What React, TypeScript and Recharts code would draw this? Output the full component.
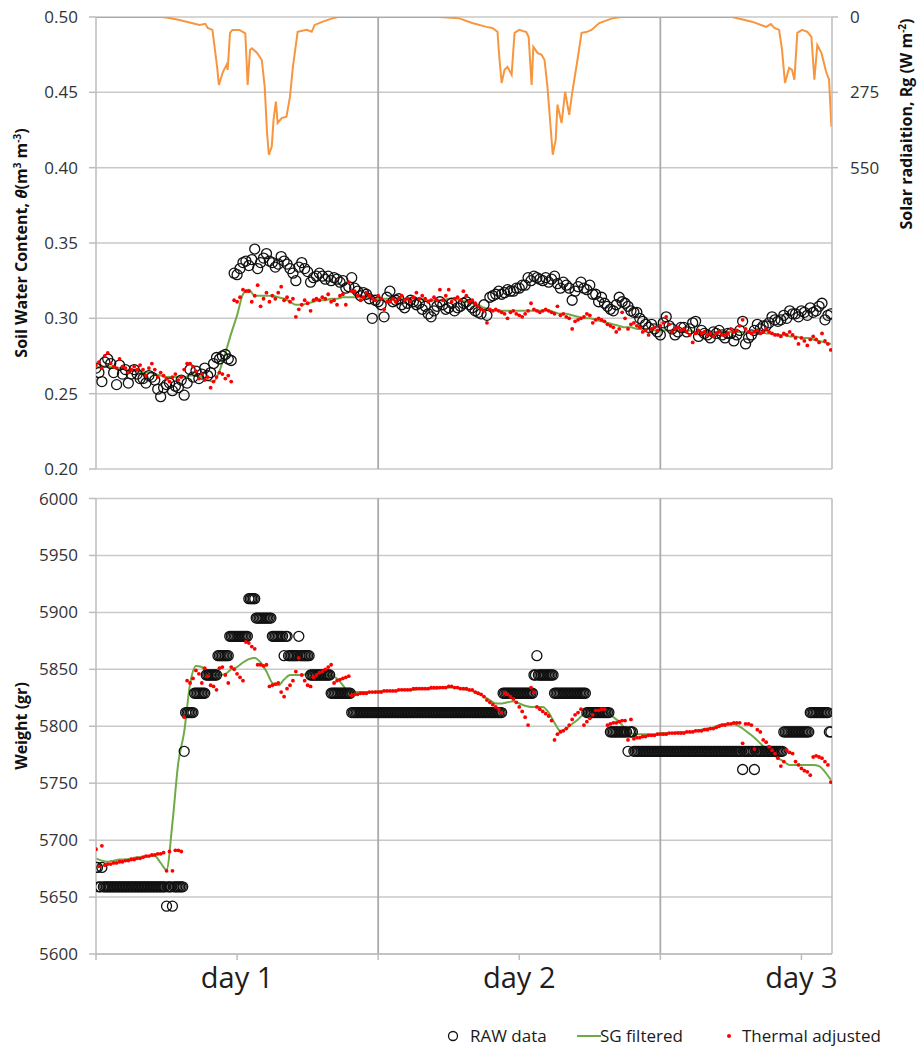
import React from 'react';
import {
  ComposedChart,
  Scatter,
  Line,
  XAxis,
  YAxis,
  CartesianGrid,
  ReferenceLine,
} from 'recharts';

// ---- time base (hours from start of logging) ----
const X_MAX = 62.6;
const RAW_STEP_H = 0.25; // logger interval for theta / thermal series
const SCALE_STEP_H = 0.125; // balance logging interval
const SG_STEP_H = 0.5; // interval of the smoothed series
const dayTicks = [0, 12, 24, 36, 48, 60];
const dayLabels: Record<number, string> = { 12: 'day 1', 36: 'day 2', 60: 'day 3' };
const dayBoundaries = [24, 48];

// ---- axis ticks ----
const swcTicks = [0.2, 0.25, 0.3, 0.35, 0.4, 0.45, 0.5];
const radTicks = [0, 275, 550];
const weightTicks = [5600, 5650, 5700, 5750, 5800, 5850, 5900, 5950, 6000];

// ---- solar radiation, Rg (W m-2) ----
const solarHours = [
  0, 5.5, 6.0, 7.0, 7.7, 8.8, 9.3, 9.5, 9.9, 10.3, 10.45, 10.8, 11.1, 11.2, 11.4, 11.6,
  12.2, 12.7, 12.9, 13.1, 13.25, 13.7, 14.1, 14.35, 14.55, 14.7, 14.95, 15.1, 15.3, 15.45,
  15.8, 16.2, 16.5, 16.75, 17.15, 17.9, 18.35, 18.6, 19.3, 20.1, 20.6,
  29.2, 30.9, 32.0, 33.2, 33.7, 34.15, 34.3, 34.5, 34.75, 35.0, 35.35, 35.6, 36.0, 36.6,
  36.8, 37.05, 37.2, 37.55, 37.9, 38.15, 38.4, 38.75, 38.85, 39.1, 39.25, 39.6, 39.9,
  40.25, 40.5, 40.95, 41.3, 41.7, 42.15, 42.8, 43.9, 44.7,
  54.1, 55.8, 57.0, 57.4, 57.7, 58.1, 58.35, 58.6, 58.95, 59.2, 59.4, 59.65, 60.05, 60.5,
  60.85, 61.1, 61.35, 61.7, 62.1, 62.35, 62.55,
];
const solarValues = [
  0, 0, 2, 10, 17, 29, 25, 40, 47, 181, 248, 200, 175, 193, 58, 47,
  47, 60, 248, 120, 114, 131, 157, 255, 423, 503, 473, 375, 309, 387,
  369, 364, 291, 181, 54, 47, 54, 29, 17, 5, 0,
  0, 5, 22, 36, 40, 54, 145, 241, 193, 182, 211, 58, 47, 55,
  73, 248, 109, 131, 138, 157, 255, 448, 503, 448, 320, 387, 273,
  357, 277, 157, 58, 55, 47, 22, 5, 0,
  0, 17, 36, 26, 40, 47, 120, 241, 186, 193, 229, 58, 47, 54,
  73, 229, 102, 131, 200, 229, 400,
];

// ---- soil water content, theta (m3 m-3), every 15 min ----
const swcRaw = [
  0.267, 0.264, 0.258, 0.271, 0.273, 0.270, 0.264, 0.256, 0.269, 0.263, 0.266, 0.257,
  0.263, 0.266, 0.263, 0.260, 0.260, 0.257, 0.262, 0.261, 0.259, 0.253, 0.248, 0.254,
  0.256, 0.257, 0.252, 0.255, 0.254, 0.259, 0.249, 0.257, 0.266, 0.261, 0.265, 0.260,
  0.263, 0.267, 0.262, 0.264, 0.270, 0.274, 0.273, 0.275, 0.276, 0.273, 0.272, 0.330,
  0.329, 0.333, 0.337, 0.338, 0.335, 0.339, 0.346, 0.333, 0.337, 0.340, 0.343, 0.338,
  0.337, 0.334, 0.336, 0.341, 0.338, 0.336, 0.333, 0.330, 0.325, 0.334, 0.337, 0.333,
  0.331, 0.324, 0.327, 0.328, 0.330, 0.328, 0.326, 0.328, 0.325, 0.327, 0.326, 0.324,
  0.325, 0.320, 0.321, 0.327, 0.320, 0.318, 0.315, 0.317, 0.316, 0.313, 0.300, 0.312,
  0.311, 0.309, 0.301, 0.314, 0.318, 0.311, 0.312, 0.313, 0.309, 0.307, 0.310, 0.312,
  0.311, 0.309, 0.310, 0.306, 0.308, 0.303, 0.301, 0.305, 0.308, 0.311, 0.309, 0.306,
  0.307, 0.310, 0.305, 0.307, 0.308, 0.310, 0.311, 0.309, 0.307, 0.305, 0.304, 0.303,
  0.309, 0.302, 0.314, 0.315, 0.316, 0.318, 0.316, 0.317, 0.319, 0.318, 0.318, 0.320,
  0.320, 0.322, 0.322, 0.327, 0.325, 0.328, 0.327, 0.326, 0.325, 0.327, 0.324, 0.326,
  0.328, 0.323, 0.320, 0.324, 0.322, 0.320, 0.312, 0.318, 0.321, 0.324, 0.320, 0.319,
  0.322, 0.316, 0.316, 0.311, 0.314, 0.310, 0.308, 0.306, 0.305, 0.309, 0.314, 0.311,
  0.310, 0.308, 0.305, 0.304, 0.304, 0.300, 0.298, 0.296, 0.294, 0.296, 0.293, 0.291,
  0.289, 0.297, 0.301, 0.295, 0.293, 0.289, 0.291, 0.294, 0.294, 0.291, 0.293, 0.297,
  0.298, 0.288, 0.292, 0.290, 0.289, 0.287, 0.291, 0.290, 0.292, 0.289, 0.287, 0.290,
  0.290, 0.285, 0.289, 0.292, 0.298, 0.283, 0.287, 0.289, 0.292, 0.296, 0.293, 0.295,
  0.295, 0.297, 0.301, 0.299, 0.298, 0.299, 0.302, 0.300, 0.305, 0.303, 0.303, 0.301,
  0.305, 0.304, 0.302, 0.307, 0.304, 0.305, 0.308, 0.310, 0.299, 0.302, 0.303,
];
const swcThermal = [
  0.269, 0.271, 0.267, 0.275, 0.277, 0.270, 0.268, 0.267, 0.273, 0.268, 0.267, 0.264,
  0.266, 0.268, 0.266, 0.269, 0.266, 0.262, 0.267, 0.270, 0.266, 0.261, 0.264, 0.262,
  0.260, 0.258, 0.261, 0.263, 0.259, 0.261, 0.266, 0.270, 0.270, 0.268, 0.265, 0.260,
  0.263, 0.259, 0.261, 0.254, 0.258, 0.261, 0.264, 0.263, 0.260, 0.262, 0.258, 0.312,
  0.311, 0.314, 0.319, 0.318, 0.318, 0.311, 0.315, 0.322, 0.308, 0.313, 0.317, 0.311,
  0.315, 0.313, 0.317, 0.321, 0.312, 0.314, 0.311, 0.313, 0.301, 0.306, 0.309, 0.312,
  0.310, 0.305, 0.312, 0.313, 0.312, 0.314, 0.313, 0.316, 0.311, 0.312, 0.309, 0.315,
  0.316, 0.309, 0.324, 0.318, 0.318, 0.315, 0.312, 0.314, 0.317, 0.315, 0.313, 0.312,
  0.315, 0.313, 0.306, 0.311, 0.311, 0.313, 0.311, 0.313, 0.315, 0.312, 0.313, 0.311,
  0.314, 0.317, 0.313, 0.315, 0.313, 0.311, 0.312, 0.314, 0.312, 0.319, 0.312, 0.315,
  0.319, 0.311, 0.313, 0.314, 0.312, 0.318, 0.315, 0.311, 0.312, 0.310, 0.308, 0.306,
  0.305, 0.297, 0.306, 0.305, 0.306, 0.305, 0.304, 0.303, 0.300, 0.304, 0.305, 0.303,
  0.302, 0.301, 0.303, 0.305, 0.310, 0.306, 0.305, 0.304, 0.305, 0.306, 0.305, 0.304,
  0.303, 0.308, 0.302, 0.303, 0.301, 0.300, 0.293, 0.298, 0.299, 0.300, 0.301, 0.303,
  0.302, 0.297, 0.299, 0.300, 0.299, 0.298, 0.296, 0.295, 0.294, 0.291, 0.293, 0.304,
  0.300, 0.293, 0.296, 0.297, 0.295, 0.294, 0.291, 0.292, 0.289, 0.293, 0.294, 0.292,
  0.295, 0.297, 0.301, 0.296, 0.291, 0.293, 0.294, 0.292, 0.293, 0.291, 0.289, 0.284,
  0.290, 0.292, 0.290, 0.291, 0.289, 0.290, 0.288, 0.290, 0.291, 0.289, 0.289, 0.290,
  0.293, 0.291, 0.292, 0.295, 0.299, 0.293, 0.291, 0.290, 0.291, 0.292, 0.290, 0.291,
  0.293, 0.291, 0.290, 0.289, 0.289, 0.288, 0.290, 0.289, 0.291, 0.289, 0.287, 0.283,
  0.287, 0.285, 0.282, 0.286, 0.288, 0.286, 0.284, 0.290, 0.285, 0.283, 0.279,
];
// Savitzky-Golay smoothed theta, every 30 min
const swcSg = [
  0.267, 0.268, 0.268, 0.267, 0.267, 0.266, 0.265, 0.265, 0.264, 0.264,
  0.263, 0.262, 0.261, 0.261, 0.261, 0.261, 0.262, 0.262, 0.261, 0.259,
  0.258, 0.265, 0.277, 0.290, 0.302, 0.316, 0.319, 0.315, 0.315, 0.315,
  0.315, 0.314, 0.313, 0.311, 0.309, 0.309, 0.310, 0.311, 0.312, 0.312,
  0.313, 0.313, 0.314, 0.314, 0.314, 0.314, 0.314, 0.313, 0.313, 0.313,
  0.313, 0.313, 0.313, 0.313, 0.313, 0.313, 0.312, 0.312, 0.312, 0.312,
  0.313, 0.313, 0.312, 0.311, 0.310, 0.309, 0.307, 0.306, 0.305, 0.305,
  0.305, 0.305, 0.305, 0.305, 0.305, 0.305, 0.305, 0.305, 0.304, 0.303,
  0.303, 0.302, 0.301, 0.300, 0.300, 0.299, 0.298, 0.297, 0.296, 0.295,
  0.294, 0.294, 0.293, 0.293, 0.293, 0.292, 0.292, 0.292, 0.292, 0.292,
  0.292, 0.292, 0.291, 0.291, 0.291, 0.291, 0.291, 0.291, 0.291, 0.291,
  0.291, 0.291, 0.291, 0.291, 0.290, 0.290, 0.289, 0.289, 0.288, 0.288,
  0.287, 0.287, 0.286, 0.285, 0.284, 0.283,
];

// ---- lysimeter weight (gr), raw balance readings every 7.5 min ----
const weightRaw = [
  5676, 5676, 5659, 5659, 5676, 5659, 5659, 5659,
  5659, 5659, 5659, 5659, 5659, 5659, 5659, 5659,
  5659, 5659, 5659, 5659, 5659, 5659, 5659, 5659,
  5659, 5659, 5659, 5659, 5659, 5659, 5659, 5659,
  5659, 5659, 5659, 5659, 5659, 5659, 5659, 5659,
  5659, 5659, 5659, 5659, 5659, 5659, 5659, 5659,
  5642, 5659, 5659, 5659, 5642, 5659, 5659, 5659,
  5659, 5659, 5659, 5659, 5778, 5812, 5812, 5812,
  5812, 5812, 5812, 5829, 5829, 5829, 5829, 5829,
  5829, 5829, 5829, 5845, 5845, 5845, 5845, 5845,
  5845, 5845, 5845, 5862, 5862, 5862, 5862, 5862,
  5862, 5862, 5862, 5879, 5879, 5879, 5879, 5879,
  5879, 5879, 5879, 5879, 5879, 5879, 5879, 5879,
  5912, 5912, 5912, 5912, 5912, 5895, 5895, 5895,
  5895, 5895, 5895, 5895, 5895, 5895, 5895, 5895,
  5879, 5879, 5879, 5879, 5879, 5879, 5879, 5879,
  5862, 5879, 5879, 5862, 5862, 5862, 5862, 5862,
  5862, 5862, 5879, 5862, 5862, 5862, 5862, 5862,
  5862, 5862, 5845, 5845, 5845, 5845, 5845, 5845,
  5845, 5845, 5845, 5845, 5845, 5845, 5845, 5845,
  5829, 5829, 5829, 5829, 5829, 5829, 5829, 5829,
  5829, 5829, 5829, 5829, 5829, 5829, 5812, 5812,
  5812, 5812, 5812, 5812, 5812, 5812, 5812, 5812,
  5812, 5812, 5812, 5812, 5812, 5812, 5812, 5812,
  5812, 5812, 5812, 5812, 5812, 5812, 5812, 5812,
  5812, 5812, 5812, 5812, 5812, 5812, 5812, 5812,
  5812, 5812, 5812, 5812, 5812, 5812, 5812, 5812,
  5812, 5812, 5812, 5812, 5812, 5812, 5812, 5812,
  5812, 5812, 5812, 5812, 5812, 5812, 5812, 5812,
  5812, 5812, 5812, 5812, 5812, 5812, 5812, 5812,
  5812, 5812, 5812, 5812, 5812, 5812, 5812, 5812,
  5812, 5812, 5812, 5812, 5812, 5812, 5812, 5812,
  5812, 5812, 5812, 5812, 5812, 5812, 5812, 5812,
  5812, 5812, 5812, 5812, 5812, 5812, 5812, 5812,
  5812, 5812, 5812, 5812, 5812, 5829, 5829, 5829,
  5829, 5829, 5829, 5829, 5829, 5829, 5829, 5829,
  5829, 5829, 5829, 5829, 5829, 5829, 5829, 5829,
  5829, 5829, 5845, 5845, 5862, 5845, 5845, 5845,
  5845, 5845, 5845, 5845, 5845, 5845, 5845, 5845,
  5829, 5829, 5829, 5829, 5829, 5829, 5829, 5829,
  5829, 5829, 5829, 5829, 5829, 5829, 5829, 5829,
  5829, 5829, 5829, 5829, 5829, 5829, 5812, 5812,
  5812, 5812, 5812, 5812, 5812, 5812, 5812, 5812,
  5812, 5812, 5812, 5812, 5812, 5812, 5795, 5795,
  5795, 5795, 5795, 5795, 5795, 5795, 5795, 5795,
  5795, 5795, 5778, 5795, 5795, 5795, 5778, 5778,
  5778, 5778, 5778, 5778, 5778, 5778, 5778, 5778,
  5778, 5778, 5778, 5778, 5778, 5778, 5778, 5778,
  5778, 5778, 5778, 5778, 5778, 5778, 5778, 5778,
  5778, 5778, 5778, 5778, 5778, 5778, 5778, 5778,
  5778, 5778, 5778, 5778, 5778, 5778, 5778, 5778,
  5778, 5778, 5778, 5778, 5778, 5778, 5778, 5778,
  5778, 5778, 5778, 5778, 5778, 5778, 5778, 5778,
  5778, 5778, 5778, 5778, 5778, 5778, 5778, 5778,
  5778, 5778, 5778, 5778, 5778, 5778, 5778, 5778,
  5762, 5778, 5778, 5778, 5778, 5778, 5778, 5778,
  5762, 5778, 5778, 5778, 5778, 5778, 5778, 5778,
  5778, 5778, 5778, 5778, 5778, 5778, 5778, 5778,
  5778, 5778, 5778, 5778, 5795, 5795, 5795, 5795,
  5795, 5795, 5795, 5795, 5795, 5795, 5795, 5795,
  5795, 5795, 5795, 5795, 5795, 5795, 5812, 5812,
  5812, 5812, 5812, 5812, 5812, 5812, 5812, 5812,
  5812, 5812, 5812, 5795, 5795,
];
// temperature-corrected weight, every 15 min
const weightThermal = [
  5692, 5677, 5695, 5678, 5679, 5679, 5680, 5680, 5681, 5681, 5682, 5682,
  5683, 5683, 5684, 5684, 5685, 5686, 5686, 5687, 5687, 5688, 5688, 5689,
  5673, 5690, 5673, 5691, 5691, 5690, 5808, 5840, 5838, 5842, 5849, 5846,
  5838, 5851, 5844, 5836, 5835, 5832, 5851, 5852, 5845, 5838, 5852, 5850,
  5846, 5843, 5840, 5874, 5873, 5870, 5868, 5854, 5854, 5853, 5854, 5835,
  5836, 5837, 5838, 5830, 5826, 5833, 5836, 5840, 5848, 5860, 5845, 5840,
  5836, 5835, 5843, 5845, 5847, 5848, 5850, 5852, 5854, 5838, 5840, 5841,
  5842, 5843, 5844, 5827, 5828, 5828, 5829, 5829, 5829, 5830, 5830, 5830,
  5830, 5830, 5831, 5831, 5831, 5831, 5831, 5832, 5832, 5832, 5832, 5832,
  5833, 5833, 5833, 5833, 5833, 5833, 5834, 5834, 5834, 5834, 5834, 5834,
  5835, 5835, 5834, 5834, 5833, 5833, 5833, 5832, 5832, 5830, 5829, 5828,
  5826, 5823, 5821, 5819, 5817, 5815, 5812, 5829, 5828, 5826, 5824, 5821,
  5817, 5813, 5808, 5801, 5834, 5830, 5817, 5815, 5813, 5811, 5809, 5805,
  5788, 5793, 5795, 5796, 5798, 5801, 5806, 5810, 5812, 5815, 5801, 5804,
  5807, 5810, 5814, 5814, 5815, 5815, 5801, 5802, 5803, 5803, 5804, 5805,
  5805, 5788, 5806, 5789, 5790, 5790, 5791, 5791, 5792, 5792, 5792, 5793,
  5793, 5793, 5793, 5794, 5794, 5794, 5794, 5794, 5794, 5795, 5795, 5795,
  5796, 5796, 5796, 5797, 5797, 5798, 5798, 5799, 5800, 5801, 5801, 5802,
  5802, 5803, 5803, 5803, 5785, 5802, 5802, 5801, 5780, 5797, 5795, 5788,
  5786, 5782, 5779, 5776, 5772, 5765, 5769, 5779, 5777, 5776, 5769, 5766,
  5763, 5761, 5760, 5757, 5773, 5774, 5773, 5772, 5769, 5766, 5751,
];
// Savitzky-Golay smoothed weight, every 30 min
const weightSg = [
  5684, 5682, 5681, 5682, 5683, 5683, 5684, 5685, 5685, 5686,
  5686, 5680, 5674, 5715, 5768, 5795, 5837, 5853, 5852, 5845,
  5845, 5845, 5846, 5850, 5852, 5856, 5859, 5860, 5856, 5848,
  5838, 5836, 5841, 5845, 5845, 5845, 5846, 5846, 5845, 5845,
  5844, 5842, 5836, 5830, 5830, 5830, 5830, 5830, 5831, 5831,
  5831, 5831, 5832, 5832, 5832, 5833, 5833, 5833, 5833, 5834,
  5834, 5834, 5833, 5832, 5831, 5829, 5826, 5823, 5820, 5820,
  5821, 5822, 5820, 5818, 5817, 5817, 5817, 5812, 5803, 5796,
  5798, 5802, 5806, 5811, 5814, 5815, 5814, 5812, 5808, 5804,
  5798, 5794, 5793, 5793, 5793, 5793, 5794, 5794, 5794, 5795,
  5795, 5795, 5796, 5797, 5798, 5799, 5801, 5802, 5802, 5801,
  5798, 5794, 5790, 5785, 5780, 5776, 5772, 5769, 5766, 5766,
  5766, 5766, 5766, 5765, 5760, 5753,
];

// ---- helpers ----
type Pt = { t: number; v: number };
const onGrid = (values: number[], step: number): Pt[] =>
  values.map((v, i) => ({ t: i * step, v }));
const paired = (hours: number[], values: number[]): Pt[] =>
  values.map((v, i) => ({ t: hours[i], v }));

const solarData = paired(solarHours, solarValues);
const swcRawData = onGrid(swcRaw, RAW_STEP_H);
const swcThermalData = onGrid(swcThermal, RAW_STEP_H);
const swcSgData = onGrid(swcSg, SG_STEP_H);
const weightRawData = onGrid(weightRaw, SCALE_STEP_H);
const weightThermalData = onGrid(weightThermal, RAW_STEP_H);
const weightSgData = onGrid(weightSg, SG_STEP_H);

// ---- styling ----
const FONT = '"Open Sans", "DejaVu Sans", sans-serif';
const ORANGE = '#F7963F';
const GREEN = '#6FAA47';
const RED = '#FF0000';
const GRID = '#c9c9c9';
const VGRID = '#ababab';
const AXIS = '#bdbdbd';
const TICK_TEXT = { fill: '#333333', fontSize: 17, fontFamily: FONT };

const RawCircle = (props: any) =>
  props.cx == null ? <g /> : (
    <circle cx={props.cx} cy={props.cy} r={5} fill="none" stroke="#111" strokeWidth={1.3} />
  );
const RedDot = (props: any) =>
  props.cx == null ? <g /> : <circle cx={props.cx} cy={props.cy} r={1.9} fill={RED} />;

const WIDTH = 917;

function MoistureChart() {
  return (
    <ComposedChart width={WIDTH} height={480} margin={{ top: 17, right: 0, bottom: 11, left: 0 }}>
      <CartesianGrid yAxisId="swc" vertical={false} stroke={GRID} strokeWidth={1.5} />
      <XAxis type="number" dataKey="t" domain={[0, X_MAX]} allowDataOverflow hide />
      <YAxis
        yAxisId="swc"
        type="number"
        dataKey="v"
        domain={[0.2, 0.5]}
        ticks={swcTicks}
        tickFormatter={(v: number) => v.toFixed(2)}
        width={96}
        tickSize={7}
        tickMargin={11}
        axisLine={{ stroke: AXIS, strokeWidth: 1.5 }}
        tickLine={{ stroke: AXIS, strokeWidth: 1.5 }}
        tick={TICK_TEXT}
        allowDataOverflow
      />
      <YAxis
        yAxisId="rad"
        orientation="right"
        type="number"
        dataKey="v"
        domain={[0, 1650]}
        reversed
        ticks={radTicks}
        width={85}
        tickSize={6}
        tickMargin={12}
        axisLine={{ stroke: AXIS, strokeWidth: 1.5 }}
        tickLine={{ stroke: AXIS, strokeWidth: 1.5 }}
        tick={TICK_TEXT}
        allowDataOverflow
      />
      {dayBoundaries.map((d) => (
        <ReferenceLine key={d} yAxisId="swc" x={d} stroke={VGRID} strokeWidth={1.8} />
      ))}
      <Line
        yAxisId="rad"
        data={solarData}
        dataKey="v"
        type="linear"
        stroke={ORANGE}
        strokeWidth={2}
        dot={false}
        isAnimationActive={false}
      />
      <Scatter yAxisId="swc" data={swcRawData} shape={RawCircle} isAnimationActive={false} />
      <Scatter yAxisId="swc" data={swcThermalData} shape={RedDot} isAnimationActive={false} />
      <Line
        yAxisId="swc"
        data={swcSgData}
        dataKey="v"
        type="monotone"
        stroke={GREEN}
        strokeWidth={2}
        dot={false}
        isAnimationActive={false}
      />
    </ComposedChart>
  );
}

function WeightChart() {
  return (
    <ComposedChart width={WIDTH} height={566} margin={{ top: 18.5, right: 85, bottom: 42, left: 0 }}>
      <CartesianGrid yAxisId="w" vertical={false} stroke={GRID} strokeWidth={1.5} />
      <XAxis
        type="number"
        dataKey="t"
        domain={[0, X_MAX]}
        allowDataOverflow
        ticks={dayTicks}
        interval={0}
        tickFormatter={(v: number) => dayLabels[v] ?? ''}
        height={50}
        tickSize={6}
        tickMargin={7}
        axisLine={{ stroke: AXIS, strokeWidth: 1.5 }}
        tickLine={{ stroke: AXIS, strokeWidth: 1.5 }}
        tick={{ fill: '#1e1e1e', fontSize: 29, fontFamily: FONT }}
      />
      <YAxis
        yAxisId="w"
        type="number"
        dataKey="v"
        domain={[5600, 6000]}
        ticks={weightTicks}
        width={96}
        tickSize={7}
        tickMargin={11}
        axisLine={{ stroke: AXIS, strokeWidth: 1.5 }}
        tickLine={{ stroke: AXIS, strokeWidth: 1.5 }}
        tick={TICK_TEXT}
        allowDataOverflow
      />
      {dayBoundaries.map((d) => (
        <ReferenceLine key={d} yAxisId="w" x={d} stroke={VGRID} strokeWidth={1.8} />
      ))}
      <ReferenceLine yAxisId="w" x={X_MAX} stroke={AXIS} strokeWidth={1.5} />
      <Scatter yAxisId="w" data={weightRawData} shape={RawCircle} isAnimationActive={false} />
      <Line
        yAxisId="w"
        data={weightSgData}
        dataKey="v"
        type="monotone"
        stroke={GREEN}
        strokeWidth={2}
        dot={false}
        isAnimationActive={false}
      />
      <Scatter yAxisId="w" data={weightThermalData} shape={RedDot} isAnimationActive={false} />
    </ComposedChart>
  );
}

function AxisTitles() {
  const sup = { fontSize: 10 };
  return (
    <svg
      width={WIDTH}
      height={1046}
      style={{ position: 'absolute', left: 0, top: 0, pointerEvents: 'none' }}
    >
      <g fontFamily={FONT} fontWeight="bold" fontSize={16} fill="#111">
        <text transform="translate(27,243) rotate(-90)" textAnchor="middle">
          Soil Water Content, <tspan fontStyle="italic">θ</tspan>(m
          <tspan dy={-6} {...sup}>3</tspan>
          <tspan dy={6}> m</tspan>
          <tspan dy={-6} {...sup}>-3</tspan>
          <tspan dy={6}>)</tspan>
        </text>
        <text transform="translate(912,124) rotate(-90)" textAnchor="middle">
          Solar radiaition, Rg (W m
          <tspan dy={-6} {...sup}>-2</tspan>
          <tspan dy={6}>)</tspan>
        </text>
        <text transform="translate(27,726) rotate(-90)" textAnchor="middle">
          Weight (gr)
        </text>
      </g>
    </svg>
  );
}

function LegendRow() {
  const text: React.CSSProperties = {
    position: 'absolute',
    top: 1024,
    fontFamily: FONT,
    fontSize: 17,
    lineHeight: '24px',
    color: '#1a1a1a',
    whiteSpace: 'nowrap',
  };
  return (
    <>
      <svg width={14} height={14} style={{ position: 'absolute', left: 446, top: 1029 }}>
        <circle cx={7} cy={7} r={4.5} fill="none" stroke="#111" strokeWidth={1.3} />
      </svg>
      <span style={{ ...text, left: 470 }}>RAW data</span>
      <svg width={24} height={6} style={{ position: 'absolute', left: 577, top: 1033 }}>
        <line x1={0} y1={3} x2={24} y2={3} stroke={GREEN} strokeWidth={2} />
      </svg>
      <span style={{ ...text, left: 600 }}>SG filtered</span>
      <svg width={8} height={8} style={{ position: 'absolute', left: 725, top: 1032 }}>
        <circle cx={4} cy={4} r={2} fill={RED} />
      </svg>
      <span style={{ ...text, left: 742 }}>Thermal adjusted</span>
    </>
  );
}

export default function App() {
  return (
    <div
      style={{
        position: 'absolute',
        left: 0,
        top: 0,
        width: WIDTH,
        height: 1046,
        background: '#ffffff',
        overflow: 'hidden',
      }}
    >
      <div style={{ position: 'absolute', left: 0, top: 0 }}>
        <MoistureChart />
      </div>
      <div style={{ position: 'absolute', left: 0, top: 480 }}>
        <WeightChart />
      </div>
      <AxisTitles />
      <LegendRow />
    </div>
  );
}
